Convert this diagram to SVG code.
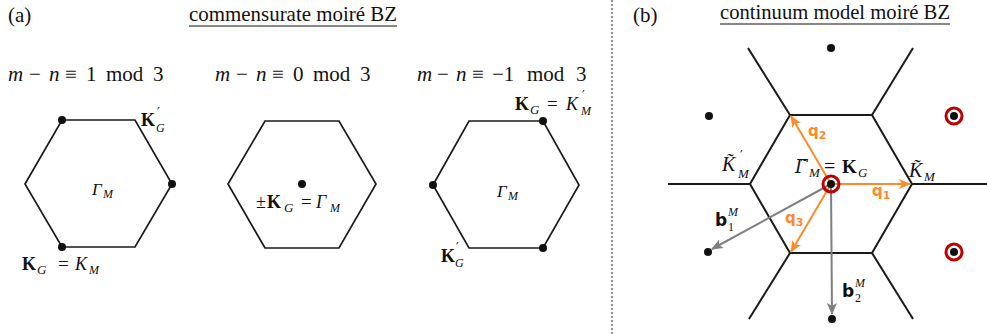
<svg xmlns="http://www.w3.org/2000/svg" width="987" height="334" viewBox="0 0 987 334">
<defs>
<style>
.t{font-family:"Liberation Serif","Times New Roman",serif;fill:#111}
.i{font-style:italic}
.b{font-weight:bold}
.pr{font-family:"DejaVu Sans",sans-serif;font-style:normal;font-weight:normal}
.hex{fill:none;stroke:#1a1a1a;stroke-width:1.7}
.bz{fill:none;stroke:#1a1a1a;stroke-width:2}
.dot{fill:#111}
.ring{fill:none;stroke:#c00000;stroke-width:3}
.q{font-family:"DejaVu Sans",sans-serif;font-weight:bold;fill:#ff8a2b}
.bv{font-family:"DejaVu Sans",sans-serif;font-weight:bold;fill:#111}
.oa{stroke:#ff8a2b;stroke-width:2;fill:none}
.ga{stroke:#7f7f7f;stroke-width:2;fill:none}
</style>
<marker id="ao" markerUnits="userSpaceOnUse" markerWidth="12" markerHeight="10" refX="11" refY="5" orient="auto"><path d="M0,0 L12,5 L0,10 L3,5 Z" fill="#ff8a2b"/></marker>
<marker id="ag" markerUnits="userSpaceOnUse" markerWidth="12" markerHeight="10" refX="11" refY="5" orient="auto"><path d="M0,0 L12,5 L0,10 L3,5 Z" fill="#7f7f7f"/></marker>
</defs>

<!-- Panel (a) headers -->
<text class="t" x="8" y="22" font-size="21">(a)</text>
<text class="t" x="189" y="21" font-size="21" textLength="208" lengthAdjust="spacingAndGlyphs">commensurate moiré BZ</text>
<line x1="189" y1="26" x2="397" y2="26" stroke="#111" stroke-width="1.2"/>
<text class="t" y="81" font-size="21"><tspan class="i" x="8">m</tspan><tspan x="29">−</tspan><tspan class="i" x="49">n</tspan><tspan x="65">≡</tspan><tspan x="86">1</tspan><tspan x="106">mod</tspan><tspan x="153">3</tspan></text>
<text class="t" y="81" font-size="21"><tspan class="i" x="215">m</tspan><tspan x="236">−</tspan><tspan class="i" x="256">n</tspan><tspan x="272">≡</tspan><tspan x="293">0</tspan><tspan x="313">mod</tspan><tspan x="360">3</tspan></text>
<text class="t" y="81" font-size="21"><tspan class="i" x="417">m</tspan><tspan x="437">−</tspan><tspan class="i" x="456">n</tspan><tspan x="472">≡</tspan><tspan x="492">−1</tspan><tspan x="527">mod</tspan><tspan x="576">3</tspan></text>

<!-- Hexagon 1 -->
<g id="hex1">
<polygon class="hex" points="25,184 62,120 135,120 172,184 135,247 62,247"/>
<circle class="dot" cx="62" cy="120" r="4"/>
<circle class="dot" cx="172" cy="184" r="4"/>
<circle class="dot" cx="62" cy="247" r="4"/>
<text class="t b" x="141" y="126" font-size="18">K</text>
<text class="pr" x="157" y="116" font-size="12">′</text>
<text class="t i" x="156" y="132" font-size="12">G</text>
<text class="t i" font-size="17"><tspan x="92" y="195">Γ</tspan><tspan x="103" y="198" font-size="12">M</tspan></text>
<text class="t" font-size="18"><tspan class="b" x="22" y="270">K</tspan><tspan class="i" x="37" y="274" font-size="13">G</tspan><tspan x="58" y="270" font-size="19">=</tspan><tspan class="i" x="75" y="270">K</tspan><tspan class="i" x="89" y="274" font-size="12">M</tspan></text>
</g>

<!-- Hexagon 2 -->
<g id="hex2">
<polygon class="hex" points="228,184 265,121 339,121 376,184 339,248 265,248"/>
<circle class="dot" cx="302" cy="184" r="4"/>
<text class="t" font-size="18"><tspan x="256" y="208">±</tspan><tspan class="b" x="267" y="208">K</tspan><tspan class="i" x="284" y="212" font-size="13">G</tspan><tspan x="301" y="208" font-size="19">=</tspan><tspan class="i" x="316" y="208">Γ</tspan><tspan class="i" x="330" y="212" font-size="12">M</tspan></text>
</g>

<!-- Hexagon 3 -->
<g id="hex3">
<polygon class="hex" points="433,185 469,121 543,121 579,185 543,248 469,248"/>
<circle class="dot" cx="543" cy="121" r="4"/>
<circle class="dot" cx="433" cy="185" r="4"/>
<circle class="dot" cx="543" cy="248" r="4"/>
<text class="t" font-size="18"><tspan class="b" x="515" y="110">K</tspan><tspan class="i" x="530" y="114" font-size="13">G</tspan><tspan x="547" y="110" font-size="19">=</tspan><tspan class="i" x="566" y="110">K</tspan></text>
<text class="pr" x="582" y="99" font-size="12">′</text>
<text class="t i" x="581" y="115" font-size="12">M</text>
<text class="t b" x="441" y="262" font-size="18">K</text>
<text class="pr" x="456" y="251" font-size="12">′</text>
<text class="t i" x="455" y="267" font-size="12">G</text>
<text class="t i" font-size="17"><tspan x="497" y="197">Γ</tspan><tspan x="508" y="200" font-size="12">M</tspan></text>
</g>

<!-- separator -->
<line x1="612" y1="0" x2="612" y2="334" stroke="#222" stroke-width="1" stroke-dasharray="2,2"/>

<!-- Panel (b) headers -->
<text class="t" x="633" y="22" font-size="21">(b)</text>
<text class="t" x="720" y="19" font-size="21" textLength="230" lengthAdjust="spacingAndGlyphs">continuum model moiré BZ</text>
<line x1="720" y1="24" x2="950" y2="24" stroke="#111" stroke-width="1.2"/>

<!-- BZ lines -->
<g id="bz">
<polygon class="bz" points="750,184 790,115 872,115 912,184 872,253 790,253"/>
<line class="bz" x1="750" y1="184" x2="668" y2="184"/>
<line class="bz" x1="912" y1="184" x2="987" y2="184"/>
<line class="bz" x1="790" y1="115" x2="748" y2="48"/>
<line class="bz" x1="872" y1="115" x2="913" y2="48"/>
<line class="bz" x1="790" y1="253" x2="749" y2="319"/>
<line class="bz" x1="872" y1="253" x2="913" y2="319"/>
</g>

<!-- lattice points -->
<g id="points">
<circle class="dot" cx="831" cy="48" r="4"/>
<circle class="dot" cx="709" cy="116" r="4"/>
<circle class="dot" cx="708" cy="252" r="4"/>
<circle class="dot" cx="832" cy="319" r="4"/>
<circle class="dot" cx="954" cy="116" r="4"/>
<circle class="ring" cx="954" cy="116" r="8"/>
<circle class="dot" cx="954" cy="252" r="4"/>
<circle class="ring" cx="954" cy="252" r="8"/>
</g>

<!-- connectors -->
<g id="connectors">
<line class="ga" x1="831" y1="184" x2="712" y2="249" marker-end="url(#ag)"/>
<line class="ga" x1="831" y1="184" x2="832" y2="314" marker-end="url(#ag)"/>
<line class="oa" x1="831" y1="184" x2="910" y2="184" marker-end="url(#ao)"/>
<line class="oa" x1="831" y1="184" x2="791" y2="116" marker-end="url(#ao)"/>
<line class="oa" x1="831" y1="184" x2="791" y2="252" marker-end="url(#ao)"/>
</g>

<g id="center">
<circle class="dot" cx="831" cy="184" r="4"/>
<circle class="ring" cx="831" cy="184" r="8"/>
</g>

<!-- right labels -->
<g id="labels-b">
<text class="t i" x="722" y="171" font-size="20">K̃</text>
<text class="pr" x="740" y="159" font-size="12">′</text>
<text class="t i" x="738" y="178" font-size="13">M</text>
<text class="t" font-size="20"><tspan class="i" x="795" y="173" font-family="DejaVu Serif" font-size="18">Γ̃</tspan><tspan class="i" x="809" y="177" font-size="13">M</tspan><tspan x="824" y="173">=</tspan><tspan class="b" x="842" y="173" font-size="19">K</tspan><tspan class="i" x="858" y="177" font-size="13">G</tspan></text>
<text class="t i" font-size="20"><tspan x="909" y="177">K̃</tspan><tspan x="924" y="181" font-size="13">M</tspan></text>
<text class="q" x="872" y="196" font-size="15">q<tspan font-size="11" dy="3">1</tspan></text>
<text class="q" x="808" y="136" font-size="15">q<tspan font-size="11" dy="3">2</tspan></text>
<text class="q" x="785" y="223" font-size="15">q<tspan font-size="11" dy="3">3</tspan></text>
<text class="bv" x="715" y="226" font-size="17">b</text>
<text class="t i" x="728" y="216" font-size="12">M</text>
<text class="t" x="728" y="231" font-size="12">1</text>
<text class="bv" x="842" y="297" font-size="17">b</text>
<text class="t i" x="855" y="287" font-size="12">M</text>
<text class="t" x="855" y="302" font-size="12">2</text>
</g>
</svg>
